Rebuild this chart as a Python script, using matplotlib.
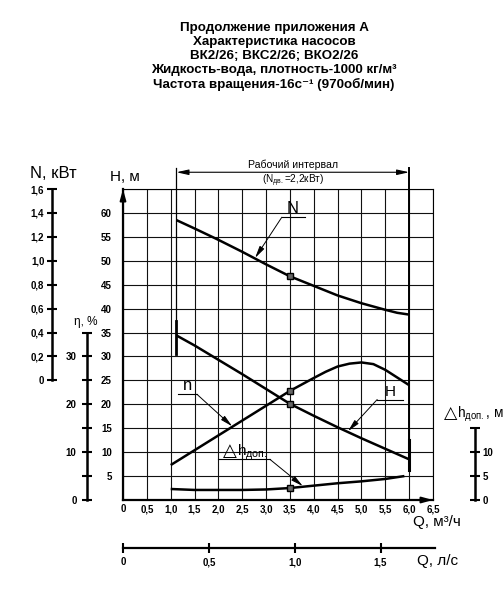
import numpy as np
import matplotlib
matplotlib.use("Agg")
import matplotlib.pyplot as plt

plt.rcParams['font.family'] = ['Liberation Sans', 'DejaVu Sans']
plt.rcParams['mathtext.fontset'] = 'dejavusans'
plt.rcParams['mathtext.default'] = 'regular'

# ---------------- data ----------------
title_lines = [
    "Продолжение приложения А",
    "Характеристика насосов",
    "ВК2/26; ВКС2/26; ВКО2/26",
    "Жидкость-вода, плотность-1000 кг/м³",
    "Частота вращения-16с⁻¹ (970об/мин)",
]
Q_ticks = [0, 0.5, 1.0, 1.5, 2.0, 2.5, 3.0, 3.5, 4.0, 4.5, 5.0, 5.5, 6.0, 6.5]
H_ticks = [0, 5, 10, 15, 20, 25, 30, 35, 40, 45, 50, 55, 60, 65]
N_ticks = [0, 0.2, 0.4, 0.6, 0.8, 1.0, 1.2, 1.4, 1.6]
eta_ticks = [0, 5, 10, 15, 20, 25, 30, 35]
dh_ticks = [0, 5, 10, 15]
Qls_ticks = [0, 0.5, 1.0, 1.5]

# power curve N, kW
Q_N = [1.12, 1.5, 2.0, 2.5, 3.0, 3.5, 4.0, 4.5, 5.0, 5.5, 5.75, 6.0]
N_kw = [1.34, 1.27, 1.175, 1.075, 0.97, 0.87, 0.79, 0.71, 0.645, 0.59, 0.565, 0.55]
# head curve H, m
Q_H = [1.12, 1.5, 2.0, 2.5, 3.0, 3.5, 4.0, 4.5, 5.0, 5.5, 6.0]
H_m = [34.4, 32.3, 29.3, 26.3, 23.2, 20.1, 17.6, 15.2, 12.9, 10.7, 8.5]
# efficiency curve, %
Q_eta = [1.0, 1.5, 2.0, 2.5, 3.0, 3.5, 4.0, 4.25, 4.5, 4.75, 5.0, 5.25, 5.5, 5.75, 6.0]
eta = [7.3, 10.4, 13.5, 16.6, 19.7, 22.8, 25.5, 26.8, 27.9, 28.5, 28.75, 28.4, 27.2, 25.6, 24.0]
# NPSH curve, m
Q_dh = [1.0, 1.5, 2.0, 2.5, 3.0, 3.5, 4.0, 4.5, 5.0, 5.5, 5.9]
dh = [2.3, 2.1, 2.1, 2.1, 2.2, 2.5, 3.0, 3.5, 3.9, 4.4, 5.0]

Q_point = 3.5
Q_work = [1.12, 6.0]
N_motor = "2,2"

# ---------------- layout helpers ----------------
W, HP = 504, 600
def fr(x0, y0, x1, y1):
    return [x0 / W, 1 - y1 / HP, (x1 - x0) / W, (y1 - y0) / HP]
def fx(x):
    return x / W
def fy(y):
    return 1 - y / HP

def comma(v):
    if v == 0:
        return "0"
    return f"{v:.1f}".replace(".", ",")

tickfont = dict(family=['Liberation Sans Narrow', 'Liberation Sans', 'DejaVu Sans'],
                weight='bold', size=7)
TRI = dict(family=['DejaVu Sans'])

fig = plt.figure(figsize=(5.04, 6.0), dpi=100)
fig.patch.set_facecolor('white')

# main axes (H scale)
ax = fig.add_axes(fr(123, 189, 433, 500))
ax.set_xlim(0, 6.5)
ax.set_ylim(0, 65)
ax.set_xticks(Q_ticks)
ax.set_yticks(H_ticks)
ax.set_xticklabels([comma(v) for v in Q_ticks], fontdict=tickfont)
ax.set_yticklabels(['' if v in (0, 65) else str(v) for v in H_ticks], fontdict=tickfont)
ax.tick_params(axis='both', length=0)
ax.tick_params(axis='y', pad=8)
ax.tick_params(axis='x', pad=3)
ax.grid(True, color='#111111', lw=0.8)
for s in ['top', 'right']:
    ax.spines[s].set_linewidth(0.8)
for s in ['left', 'bottom']:
    ax.spines[s].set_linewidth(1.6)
arrow_kw = dict(arrowstyle='-|>,head_length=0.8,head_width=0.22', color='black',
                lw=1.4, shrinkA=0, shrinkB=0, mutation_scale=8)
ax.annotate('', xy=(0, 65), xytext=(0, 60), arrowprops=arrow_kw, annotation_clip=False)
ax.annotate('', xy=(6.5, 0), xytext=(6.0, 0), arrowprops=arrow_kw, annotation_clip=False)

# curves on H-like scales
ax.plot(Q_H, H_m, color='black', lw=1.8, solid_capstyle='butt')
ax.plot(Q_eta, eta, color='black', lw=1.8, solid_capstyle='butt')
ax.plot(Q_dh, dh, color='black', lw=1.8, solid_capstyle='butt')

axN = ax.twinx()
axN.set_ylim(-1.0, 1.6)
axN.axis('off')
axN.plot(Q_N, N_kw, color='black', lw=1.8, solid_capstyle='butt')

mk = dict(marker='s', ms=4.5, mfc='#666666', mec='black', mew=1.0, ls='none', zorder=5)
ax.plot([Q_point], [H_m[Q_H.index(Q_point)]], **mk)
ax.plot([Q_point], [eta[Q_eta.index(Q_point)]], **mk)
ax.plot([Q_point], [dh[Q_dh.index(Q_point)]], **mk)
axN.plot([Q_point], [N_kw[Q_N.index(Q_point)]], **mk)

# working interval
ax.plot([Q_work[0]] * 2, [69.4, 37.5], color='black', lw=0.9, clip_on=False)
ax.plot([Q_work[0]] * 2, [37.5, 30.6], color='black', lw=2.0, clip_on=False)
ax.plot([Q_work[1]] * 2, [69.4, 12.5], color='black', lw=1.4, clip_on=False)
ax.plot([Q_work[1]] * 2, [12.5, 6.2], color='black', lw=2.2, clip_on=False)
ax.annotate('', xy=(Q_work[0], 68.5), xytext=(Q_work[1], 68.5),
            arrowprops=dict(arrowstyle='<|-|>,head_length=0.9,head_width=0.2', color='black',
                            lw=0.8, shrinkA=0, shrinkB=0, mutation_scale=8),
            annotation_clip=False)
xm = (Q_work[0] + Q_work[1]) / 2
ax.text(xm, 70.1, "Рабочий интервал", ha='center', va='center', fontsize=7.6, clip_on=False)
ax.text(xm, 66.8, "(N$_{дв.}$=" + N_motor + "кВт)", ha='center', va='center', fontsize=7.2,
        clip_on=False)

# curve labels with leaders
lead = dict(arrowstyle='-|>,head_length=0.9,head_width=0.2', color='black', lw=0.7,
            shrinkA=0, shrinkB=0, mutation_scale=8)
def leader(ux0, ux1, uy, start, tip):
    ax.plot([ux0, ux1], [uy, uy], color='black', lw=0.8)
    ax.annotate('', xy=tip, xytext=start, arrowprops=lead)

ax.text(3.56, 59.4, "N", ha='center', va='bottom', fontsize=12)
leader(3.33, 3.82, 59.1, (3.33, 59.1), (2.77, 50.6))
ax.text(1.36, 22.3, "n", ha='center', va='bottom', fontsize=12)
leader(1.15, 1.55, 22.1, (1.55, 22.1), (2.29, 15.4))
ax.text(5.6, 21.2, "H", ha='center', va='bottom', fontsize=11)
leader(5.33, 5.87, 21.0, (5.33, 21.0), (4.72, 14.4))
ax.text(2.38, 9.3, "△", ha='right', va='baseline', fontsize=13, fontdict=TRI)
ax.text(2.38, 9.3, "h$_{доп.}$", ha='left', va='baseline', fontsize=11)
leader(1.99, 3.08, 8.5, (3.08, 8.5), (3.77, 2.9))

# N scale
nax = fig.add_axes(fr(52, 189, 53, 500))
nax.patch.set_visible(False)
nax.set_ylim(-1.0, 1.6)
for s in ['top', 'right', 'bottom']:
    nax.spines[s].set_visible(False)
nax.spines['left'].set_bounds(0, 1.6)
nax.spines['left'].set_linewidth(1.8)
nax.set_xticks([])
nax.set_yticks(N_ticks)
nax.set_yticklabels([comma(v) for v in N_ticks], fontdict=tickfont)
nax.tick_params(axis='y', direction='inout', length=7, width=1.5, pad=2)

# eta scale
eax = fig.add_axes(fr(87, 189, 88, 500))
eax.patch.set_visible(False)
eax.set_ylim(0, 65)
for s in ['top', 'right', 'bottom']:
    eax.spines[s].set_visible(False)
eax.spines['left'].set_bounds(0, 35)
eax.spines['left'].set_linewidth(1.8)
eax.set_xticks([])
eax.set_yticks(eta_ticks)
eax.set_yticklabels([str(v) if v % 10 == 0 and v < 35 else '' for v in eta_ticks],
                    fontdict=tickfont)
eax.tick_params(axis='y', direction='inout', length=7, width=1.5, pad=4)

# NPSH scale (right)
dax = fig.add_axes(fr(474, 189, 475, 500))
dax.patch.set_visible(False)
dax.set_ylim(0, 65)
for s in ['top', 'left', 'bottom']:
    dax.spines[s].set_visible(False)
dax.spines['right'].set_bounds(0, 15)
dax.spines['right'].set_linewidth(1.8)
dax.set_xticks([])
dax.yaxis.tick_right()
dax.set_yticks(dh_ticks)
dax.set_yticklabels([str(v) if v < 15 else '' for v in dh_ticks], fontdict=tickfont)
dax.tick_params(axis='y', direction='inout', length=7, width=1.5, pad=2)

# Q in l/s scale
bax = fig.add_axes(fr(123, 540, 435, 548))
bax.patch.set_visible(False)
bax.set_xlim(0, 6.5 / 3.6 * (312 / 310))
for s in ['top', 'left', 'right']:
    bax.spines[s].set_visible(False)
bax.spines['bottom'].set_linewidth(1.6)
bax.set_yticks([])
bax.set_xticks(Qls_ticks)
bax.set_xticklabels([comma(v) for v in Qls_ticks], fontdict=tickfont)
bax.tick_params(axis='x', direction='inout', length=7, width=1.5, pad=3)

# axis titles
fig.text(fx(53), fy(173), "N, кВт", ha='center', va='center', fontsize=12)
fig.text(fx(125), fy(177), "H, м", ha='center', va='center', fontsize=11)
fig.text(fx(86), fy(322), "η, %", ha='center', va='center', fontsize=8.5)
fig.text(fx(457), fy(418), "△", ha='right', va='baseline', fontsize=12.5, fontdict=TRI)
fig.text(fx(457), fy(418), "h$_{доп.}$, м", ha='left', va='baseline', fontsize=9.8)
fig.text(fx(413), fy(522), "Q, м³/ч", ha='left', va='center', fontsize=11)
fig.text(fx(417), fy(561), "Q, л/с", ha='left', va='center', fontsize=11)

# title
for line, y in zip(title_lines, [28, 42, 56, 70, 84]):
    fig.text(fx(274), fy(y), line, ha='center', va='center', fontsize=9.6, weight='bold')

fig.savefig("out.png", dpi=100)
